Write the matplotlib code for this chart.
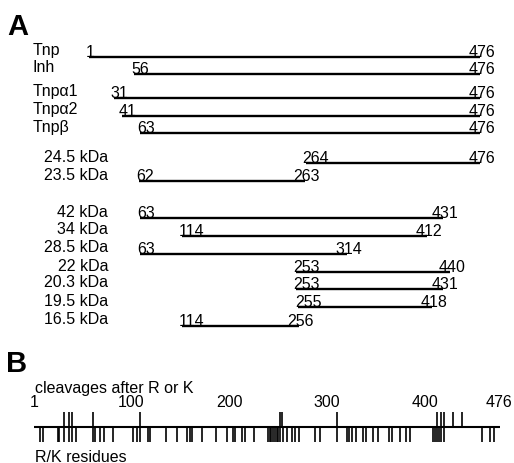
import numpy as np
import matplotlib.pyplot as plt

plt.rcParams['font.family'] = ['Liberation Sans', 'DejaVu Sans']

# panel A: fragments (start, end residue)
row_labels = ["Tnp", "Inh", "Tnp\u03b11", "Tnp\u03b12", "Tnp\u03b2",
              "24.5 kDa", "23.5 kDa",
              "42 kDa", "34 kDa", "28.5 kDa", "22 kDa", "20.3 kDa", "19.5 kDa", "16.5 kDa"]
starts = [1, 56, 31, 41, 63, 264, 62, 63, 114, 63, 253, 253, 255, 114]
ends = [476, 476, 476, 476, 476, 476, 263, 431, 412, 314, 440, 431, 418, 256]

# panel B: cleavage sites and R/K residues
cleavages = [32, 37, 40, 61, 109, 252, 254, 310, 412, 416, 419, 429, 438]
rk_residues = [7, 10, 25, 27, 32, 37, 40, 44, 61, 63, 68, 72, 82, 102, 106, 109,
               117, 119, 136, 147, 157, 160, 162, 172, 187, 198, 204, 206, 213,
               216, 225, 240, 242, 243, 245, 247, 249, 250, 252, 255, 259, 264,
               267, 271, 288, 293, 310, 320, 322, 325, 330, 337, 340, 347, 352,
               363, 366, 374, 381, 385, 408, 410, 412, 414, 416, 419, 458, 466, 470]
axis_ticks = [1, 100, 200, 300, 400, 476]

W, H = 514, 464
fig = plt.figure(figsize=(W / 100, H / 100), dpi=100)

# layout (pixels)
row_y = [57.7, 75, 99, 116.7, 134.3, 164.3, 182.3, 219.3, 236.7, 255, 273.3, 290, 308.3, 326.7]
a_x0, a_scale = 89, 0.8232
b_x0, b_scale = 34, 0.98
fs = 11.5

axA = fig.add_axes([0, 0, 1, 1])
axA.set_xlim(1 - a_x0 / a_scale, 1 + (W - a_x0) / a_scale)
axA.set_ylim(H, 0)
axA.axis('off')

for i, (lab, s, e) in enumerate(zip(row_labels, starts, ends)):
    y = row_y[i]
    axA.plot([s, e], [y, y], color='black', lw=1.7, solid_capstyle='butt')
    axA.text(s - 3 / a_scale, y - 1, str(s), ha='left', va='baseline', fontsize=fs)
    axA.text(e + 2 / a_scale, y - 1, str(e), ha='center', va='baseline', fontsize=fs)
    if i < 5:
        fig.text(33 / W, 1 - (y - 2.7) / H, lab, ha='left', va='baseline', fontsize=fs)
    else:
        fig.text(108 / W, 1 - (y - 2.7) / H, lab, ha='right', va='baseline', fontsize=fs)

fig.text(7 / W, 1 - 35 / H, "A", ha='left', va='baseline', fontsize=21, fontweight='bold')
fig.text(6 / W, 1 - 372 / H, "B", ha='left', va='baseline', fontsize=21, fontweight='bold')

axB = fig.add_axes([0, 0, 1, 1])
axB.set_xlim(1 - b_x0 / b_scale, 1 + (W - b_x0) / b_scale)
axB.set_ylim(H, 0)
axB.axis('off')

axB.plot([1, 476], [428, 428], color='black', lw=1.5, solid_capstyle='butt')
axB.vlines(cleavages, 412.7, 428, color='black', lw=1.2)
axB.vlines(rk_residues, 428, 442.7, color='black', lw=1.2)
for t in axis_ticks:
    axB.text(t, 407, str(t), ha='center', va='baseline', fontsize=fs)

fig.text(35 / W, 1 - 393.5 / H, "cleavages after R or K", ha='left', va='baseline', fontsize=fs)
fig.text(35 / W, 1 - 461.7 / H, "R/K residues", ha='left', va='baseline', fontsize=fs)

fig.savefig("out.png", dpi=100)
